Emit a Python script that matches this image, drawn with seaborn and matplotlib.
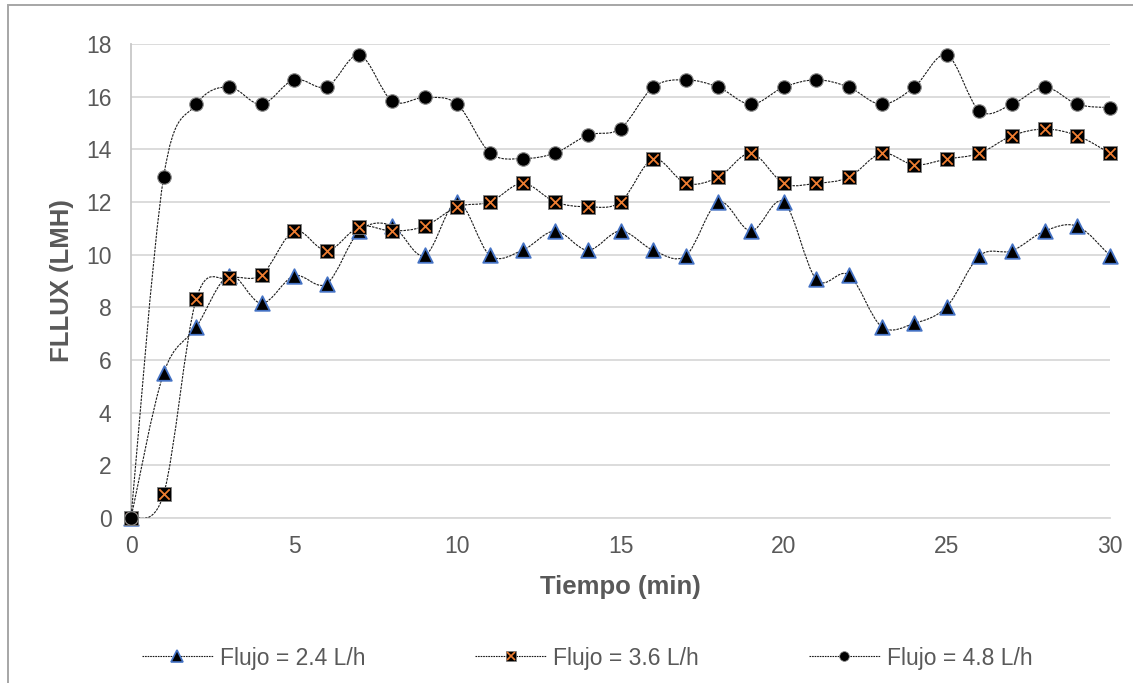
import numpy as np
import pandas as pd
import seaborn as sns
import matplotlib
matplotlib.use("Agg")
import matplotlib.pyplot as plt
from matplotlib.path import Path
from matplotlib.patches import PathPatch, Rectangle
from matplotlib.lines import Line2D

# Permeate flux over time for three feed flows
tiempo = list(range(0, 31))
flujo_24 = [0, 5.5, 7.25, 9.2, 8.15, 9.2, 8.9, 10.9, 11.1, 9.97, 12.0, 9.97, 10.17,
            10.9, 10.17, 10.9, 10.17, 9.96, 12.0, 10.9, 12.0, 9.06, 9.23, 7.27, 7.39,
            8.03, 9.96, 10.15, 10.9, 11.08, 9.96]
flujo_36 = [0, 0.91, 8.32, 9.1, 9.23, 10.9, 10.15, 11.06, 10.9, 11.08, 11.82, 12.0,
            12.71, 12.0, 11.82, 12.0, 13.63, 12.71, 12.94, 13.85, 12.71, 12.71, 12.94,
            13.85, 13.41, 13.63, 13.85, 14.52, 14.77, 14.52, 13.85]
flujo_48 = [0, 12.95, 15.71, 16.37, 15.71, 16.65, 16.37, 17.58, 15.84, 15.97, 15.71,
            13.87, 13.65, 13.86, 14.54, 14.79, 16.36, 16.64, 16.36, 15.71, 16.36, 16.64,
            16.36, 15.71, 16.36, 17.58, 15.46, 15.71, 16.36, 15.71, 15.58]
series_labels = ["Flujo = 2.4 L/h", "Flujo = 3.6 L/h", "Flujo = 4.8 L/h"]
x_ticks = [0, 5, 10, 15, 20, 25, 30]
y_ticks = [0, 2, 4, 6, 8, 10, 12, 14, 16, 18]

TEXT = "#595959"
GRID = "#d9d9d9"

sns.set_theme(style="white")
plt.rcParams["font.family"] = ["Liberation Sans", "DejaVu Sans"]

fig = plt.figure(figsize=(11.33, 6.83), dpi=100)
ax = fig.add_axes([131 / 1133, 1 - 518 / 683, (1110 - 131) / 1133, (518 - 44) / 683])

# outer chart-area frame
fig.add_artist(Rectangle((8 / 1133, -0.2), 1.2, 1.2 - 5 / 683,
                         transform=fig.transFigure, fill=False,
                         edgecolor="#a6a6a6", linewidth=1.4, zorder=0))


def smooth_path(xs, ys):
    """Cubic Bezier path through the points (smoothed-line style)."""
    pts = np.column_stack([xs, ys]).astype(float)
    n = len(pts)
    verts = [pts[0]]
    codes = [Path.MOVETO]
    for i in range(n - 1):
        p0 = pts[i - 1] if i > 0 else pts[i]
        p1 = pts[i]
        p2 = pts[i + 1]
        p3 = pts[i + 2] if i + 2 < n else pts[i + 1]
        c1 = p1 + (p2 - p0) / 6.0
        c2 = p2 - (p3 - p1) / 6.0
        verts += [c1, c2, p2]
        codes += [Path.CURVE4] * 3
    return Path(verts, codes)


line_kw = dict(fill=False, edgecolor="#1a1a1a", linewidth=0.8,
               linestyle=(0, (2.2, 1.0)))

data = pd.DataFrame({"t": tiempo, "f24": flujo_24, "f36": flujo_36, "f48": flujo_48})

# Flujo 2.4: dotted curve + black triangles with blue edge
ax.add_patch(PathPatch(smooth_path(data["t"], data["f24"]), zorder=2, **line_kw))
sns.scatterplot(data=data, x="t", y="f24", ax=ax, marker="^", s=110,
                color="black", edgecolor="#4472c4", linewidth=1.3, zorder=3,
                legend=False)

# Flujo 3.6: dotted curve + black squares with orange cross
ax.add_patch(PathPatch(smooth_path(data["t"], data["f36"]), zorder=4, **line_kw))
sns.scatterplot(data=data, x="t", y="f36", ax=ax, marker="s", s=105,
                color="black", edgecolor="#7f7f7f", linewidth=0.6, zorder=5,
                legend=False)
sns.scatterplot(data=data, x="t", y="f36", ax=ax, marker="x", s=55,
                color="#ed7d31", linewidth=1.3, zorder=6, legend=False)

# Flujo 4.8: dotted curve + black circles
ax.add_patch(PathPatch(smooth_path(data["t"], data["f48"]), zorder=7, **line_kw))
sns.scatterplot(data=data, x="t", y="f48", ax=ax, marker="o", s=95,
                color="black", edgecolor="#8c8c8c", linewidth=0.8, zorder=8,
                legend=False)

# markers at the axis edges are drawn in full
for coll in ax.collections:
    coll.set_clip_on(False)

ax.set_xlim(0, 30)
ax.set_ylim(0, 18)
ax.set_xticks(x_ticks)
ax.set_yticks(y_ticks)
ax.set_xticklabels([str(v) for v in x_ticks])
ax.set_yticklabels([str(v) for v in y_ticks])
ax.tick_params(axis="both", length=0, labelsize=16.5, labelcolor=TEXT)
ax.tick_params(axis="y", pad=14)
ax.tick_params(axis="x", pad=12)

ax.yaxis.grid(True, color=GRID, linewidth=1.3)
ax.xaxis.grid(False)
ax.set_axisbelow(True)
for side in ["top", "right"]:
    ax.spines[side].set_visible(False)
ax.spines["left"].set_color("#c8c8c8")
ax.spines["left"].set_linewidth(1.3)
ax.spines["bottom"].set_color(GRID)
ax.spines["bottom"].set_linewidth(1.3)

ax.set_xlabel("Tiempo (min)", fontsize=18.5, fontweight="bold", color=TEXT, va="center")
ax.set_ylabel("FLLUX (LMH)", fontsize=18.5, fontweight="bold", color=TEXT, va="center")
ax.xaxis.set_label_coords(0.5, -(587 - 518) / 474)
ax.yaxis.set_label_coords((62 - 131) / 979, 0.5)

# legend entries: dotted line with the series marker
leg_line = dict(color="#1a1a1a", linewidth=0.8, linestyle=(0, (1.5, 0.8)))
h24 = Line2D([], [], marker="^", markersize=8, markerfacecolor="black",
             markeredgecolor="#4472c4", markeredgewidth=1.2, **leg_line)
h36 = (Line2D([], [], marker="s", markersize=7.5, markerfacecolor="black",
              markeredgecolor="#7f7f7f", markeredgewidth=0.5, **leg_line),
       Line2D([], [], marker="x", markersize=5.5, linestyle="none",
              markeredgecolor="#ed7d31", markeredgewidth=1.2))
h48 = Line2D([], [], marker="o", markersize=7, markerfacecolor="black",
             markeredgecolor="#8c8c8c", markeredgewidth=0.6, **leg_line)

fig.legend([h24, h36, h48], series_labels, loc="center",
           bbox_to_anchor=(587 / 1133, 25 / 683), ncol=3, frameon=False,
           fontsize=16.5, labelcolor=TEXT, handlelength=3.1, handletextpad=0.3,
           columnspacing=4.8, borderpad=0, numpoints=1)

fig.savefig("out.png", dpi=100, facecolor="white")
